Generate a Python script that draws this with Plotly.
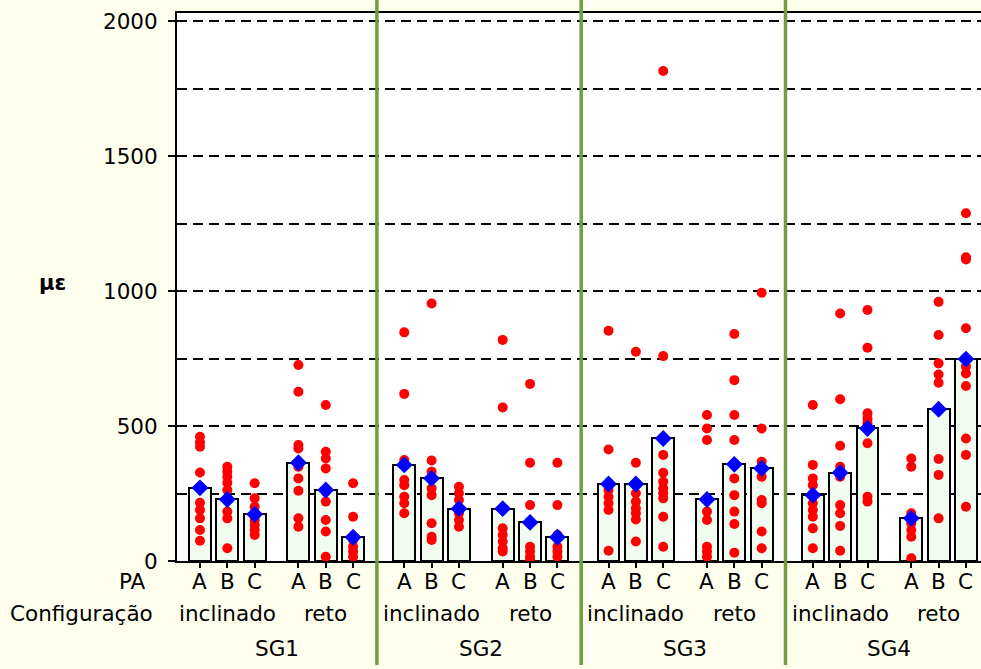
import plotly.graph_objects as go

# ---- data ----
sg_labels = ["SG1", "SG2", "SG3", "SG4"]
config_labels = ["inclinado", "reto"]
pa_labels = ["A", "B", "C"]

# individual readings per SG: order = inclinado A,B,C then reto A,B,C
sg1_points = [
    [460, 440, 423, 328, 275, 216, 189, 158, 115, 75],
    [349, 331, 312, 290, 263, 228, 183, 158, 47],
    [288, 232, 201, 177, 152, 133, 115, 96],
    [726, 627, 430, 417, 349, 306, 260, 158, 127],
    [578, 405, 380, 343, 257, 220, 152, 109, 16],
    [288, 164, 78, 53, 35, 16],
]
sg2_points = [
    [847, 619, 374, 300, 281, 238, 214, 177],
    [954, 372, 331, 269, 244, 140, 90, 78],
    [275, 251, 226, 177, 152, 127],
    [819, 569, 121, 96, 72, 47, 35],
    [656, 364, 207, 53, 35, 16, 4],
    [364, 207, 96, 53, 35, 16],
]
sg3_points = [
    [853, 413, 263, 238, 214, 189, 38],
    [775, 364, 251, 220, 195, 177, 154, 72],
    [1815, 759, 393, 327, 294, 269, 251, 232, 164, 53],
    [541, 491, 448, 183, 152, 53, 35, 16],
    [841, 670, 541, 448, 306, 244, 183, 137, 31],
    [994, 491, 368, 312, 226, 214, 109, 47],
]
sg4_points = [
    [578, 356, 306, 281, 214, 189, 164, 121, 47],
    [917, 599, 427, 349, 312, 207, 177, 130, 38],
    [930, 790, 547, 528, 510, 436, 238, 220],
    [380, 349, 177, 140, 115, 90, 10],
    [960, 837, 732, 691, 660, 378, 319, 158],
    [1288, 1125, 1117, 862, 720, 695, 648, 454, 393, 201],
]

sg1_means = [271, 228, 173, 364, 263, 88]
sg2_means = [356, 306, 194, 194, 143, 88]
sg3_means = [285, 285, 454, 228, 358, 343]
sg4_means = [244, 327, 491, 158, 562, 748]

all_points = [sg1_points, sg2_points, sg3_points, sg4_points]
all_means = [sg1_means, sg2_means, sg3_means, sg4_means]

# ---- layout of category slots ----
SG_STEP = 7.47
CFG_STEP = 3.6

def slot(sg_i, cfg_i, pa_i):
    return sg_i * SG_STEP + cfg_i * CFG_STEP + pa_i

bar_x, bar_y = [], []
dot_x, dot_y = [], []
for s in range(len(sg_labels)):
    for c in range(len(config_labels)):
        for p in range(len(pa_labels)):
            k = c * 3 + p
            xpos = slot(s, c, p)
            bar_x.append(xpos)
            bar_y.append(all_means[s][k])
            for v in all_points[s][k]:
                dot_x.append(xpos)
                dot_y.append(v)

FONT = "DejaVu Sans"
FS = 21.5

fig = go.Figure()
fig.add_trace(go.Bar(
    x=bar_x, y=bar_y, width=0.8,
    marker=dict(color="#F1FBEF", line=dict(color="black", width=2)),
    showlegend=False,
))
fig.add_trace(go.Scatter(
    x=dot_x, y=dot_y, mode="markers",
    marker=dict(color="#FF0000", size=10, symbol="circle"),
    showlegend=False,
))
fig.add_trace(go.Scatter(
    x=bar_x, y=bar_y, mode="markers",
    marker=dict(color="#0000FF", size=13, symbol="diamond"),
    showlegend=False,
))

# separators between SG groups
shapes = []
for s in range(1, len(sg_labels)):
    xs = slot(s, 0, 0) - 1.0
    shapes.append(dict(type="line", xref="x", yref="paper", x0=xs, x1=xs,
                       y0=-0.19, y1=1.03, line=dict(color="#6F9E3D", width=3.5),
                       layer="above"))

annotations = []
ROW1, ROW2, ROW3 = -0.037, -0.096, -0.159
annotations.append(dict(text="PA", x=-0.036, y=ROW1, xref="paper", yref="paper",
                        xanchor="right", yanchor="middle", showarrow=False))
annotations.append(dict(text="Configuração", x=-0.027, y=ROW2, xref="paper", yref="paper",
                        xanchor="right", yanchor="middle", showarrow=False))
for s in range(len(sg_labels)):
    for c in range(len(config_labels)):
        for p in range(len(pa_labels)):
            annotations.append(dict(text=pa_labels[p], x=slot(s, c, p), y=ROW1,
                                    xref="x", yref="paper", xanchor="center",
                                    yanchor="middle", showarrow=False))
        annotations.append(dict(text=config_labels[c], x=slot(s, c, 1), y=ROW2,
                                xref="x", yref="paper", xanchor="center",
                                yanchor="middle", showarrow=False))
    annotations.append(dict(text=sg_labels[s], x=(slot(s, 0, 0) + slot(s, 1, 2)) / 2,
                            y=ROW3, xref="x", yref="paper", xanchor="center",
                            yanchor="middle", showarrow=False))
annotations.append(dict(text="<b>με</b>", x=-0.155, y=0.507, xref="paper", yref="paper",
                        xanchor="center", yanchor="middle", showarrow=False,
                        font=dict(size=21)))

fig.update_layout(
    width=981, height=669,
    margin=dict(l=177, r=0, t=13, b=108),
    paper_bgcolor="#FFFFEE",
    plot_bgcolor="white",
    font=dict(family=FONT, size=FS, color="black"),
    shapes=shapes,
    annotations=annotations,
    bargap=0,
)
fig.update_xaxes(
    range=[-0.84, 28.56],
    tickvals=bar_x, ticktext=[""] * len(bar_x),
    ticks="outside", ticklen=5, tickwidth=1.5, tickcolor="black",
    showline=True, linecolor="black", linewidth=2, mirror=True,
    showgrid=False, zeroline=False,
)
fig.update_yaxes(
    range=[0, 2030],
    tickvals=[0, 500, 1000, 1500, 2000],
    ticks="outside", ticklen=7, tickwidth=1.5, tickcolor="black",
    showline=True, linecolor="black", linewidth=2,
    showgrid=True, gridcolor="black", gridwidth=1.5, griddash="10px,6px",
    minor=dict(dtick=250, tick0=0, showgrid=True, gridcolor="black",
               gridwidth=1.5, griddash="10px,6px", ticks=""),
    zeroline=False,
    ticklabelstandoff=6,
)

fig.write_html(
    "out.html",
    config={"displayModeBar": False},
    post_script="document.body.style.margin='0';document.body.style.overflow='hidden';"
                "document.body.style.background='#FFFFEE';",
)
